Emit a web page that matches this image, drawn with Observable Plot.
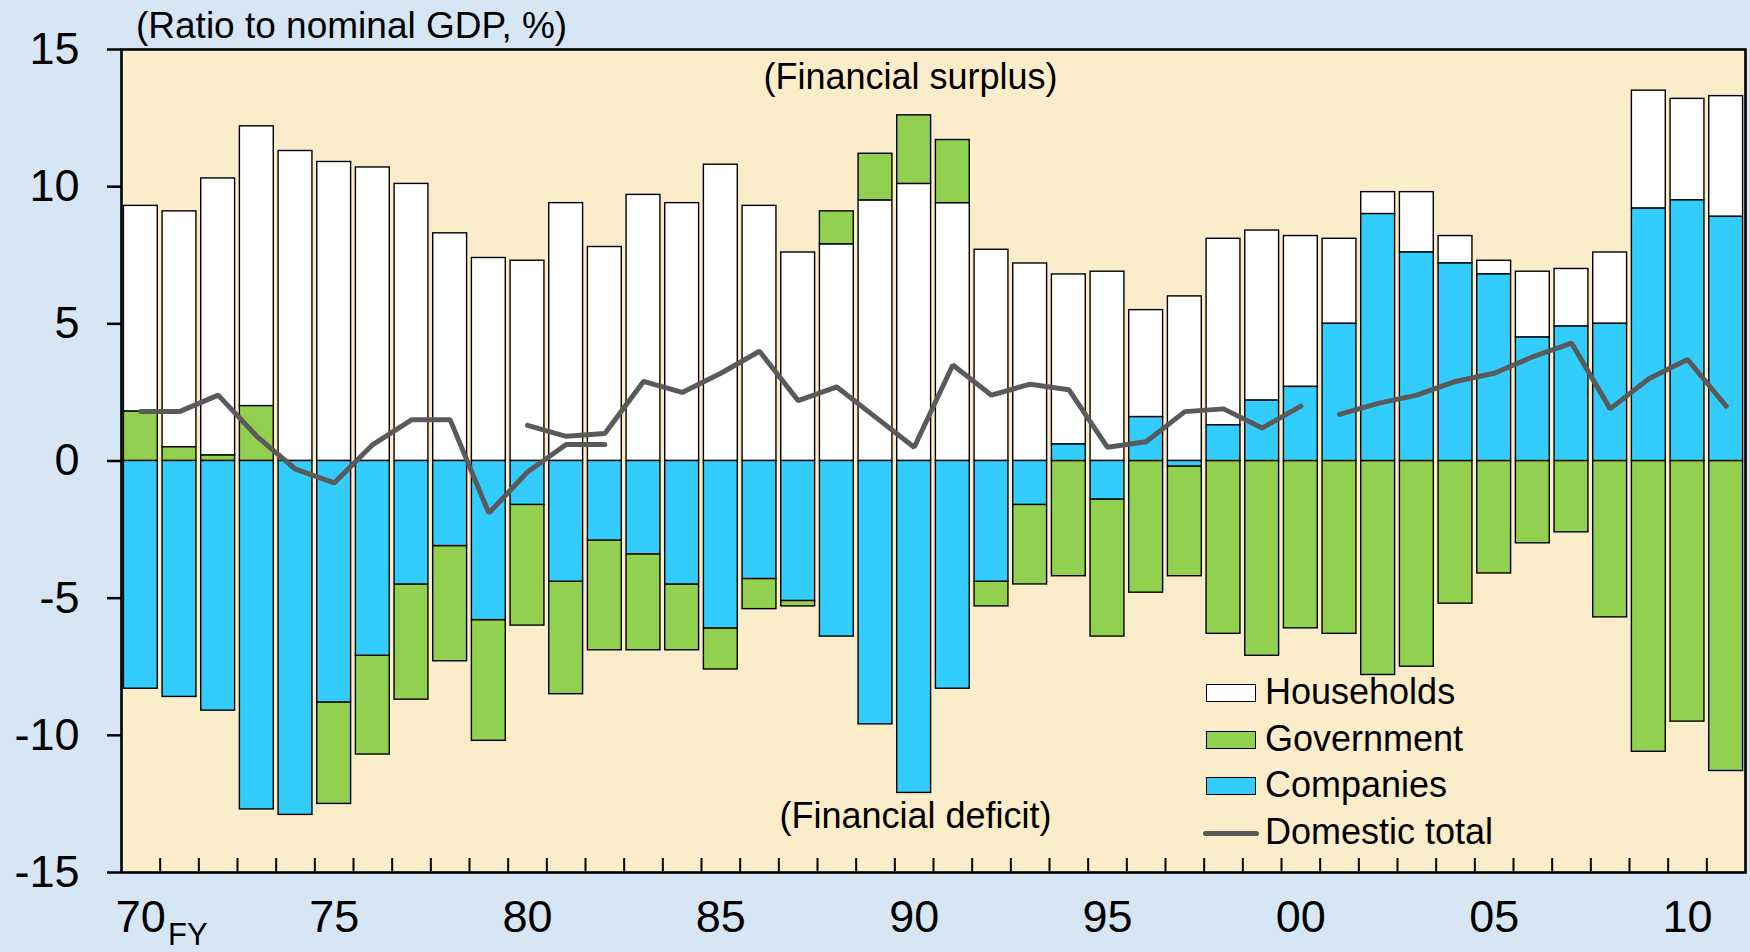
<!DOCTYPE html>
<html>
<head>
<meta charset="utf-8">
<script src="https://cdn.jsdelivr.net/npm/d3@7"></script>
<script src="https://cdn.jsdelivr.net/npm/@observablehq/plot@0.6"></script>
<style>
  html, body { margin: 0; padding: 0; width: 1750px; height: 952px; overflow: hidden;
    background: #d7e6f5; font-family: "Liberation Sans", Arial, sans-serif; color: #000; }
  #wrap { position: relative; width: 1750px; height: 952px; }
  #chart { position: absolute; left: 0; top: 0; }
  #title { position: absolute; left: 136px; top: 7px; font-size: 37px; line-height: 37px; white-space: nowrap; }
  .lg-sw { position: absolute; left: 1206px; width: 48px; height: 16px; border: 1.5px solid #000; }
  .lg-ln { position: absolute; left: 1203px; width: 56px; height: 5px; border-radius: 3px; background: #595959; }
  .lg-tx { position: absolute; left: 1265px; font-size: 36px; line-height: 36px; white-space: nowrap; }
</style>
</head>
<body>
<div id="wrap">
  <div id="chart"></div>
  <div id="title">(Ratio to nominal GDP, %)</div>
  <div class="lg-sw" style="top:684px;background:#ffffff"></div>
  <div class="lg-tx" style="top:674px">Households</div>
  <div class="lg-sw" style="top:731px;background:#92D050"></div>
  <div class="lg-tx" style="top:721px">Government</div>
  <div class="lg-sw" style="top:777px;background:#33CCFF"></div>
  <div class="lg-tx" style="top:767px">Companies</div>
  <div class="lg-ln" style="top:831px"></div>
  <div class="lg-tx" style="top:814px">Domestic total</div>
</div>
<script>
// ---- Data (ratio to nominal GDP, %) ----
const years = [1970,1971,1972,1973,1974,1975,1976,1977,1978,1979,
               1980,1981,1982,1983,1984,1985,1986,1987,1988,1989,
               1990,1991,1992,1993,1994,1995,1996,1997,1998,1999,
               2000,2001,2002,2003,2004,2005,2006,2007,2008,2009,
               2010,2011];

const households = [7.5,8.6,10.1,10.2,11.3,10.9,10.7,10.1,8.3,7.4,
                    7.3,9.4,7.8,9.7,9.4,10.8,9.3,7.6,7.9,9.5,
                    10.1,9.4,7.7,7.2,6.2,6.9,3.9,6.0,6.8,6.2,
                    5.5,3.1,0.8,2.2,1.0,0.5,2.4,2.1,2.6,4.3,
                    3.7,4.4];

const government = [1.8,0.5,0.2,2.0,0,-3.7,-3.6,-4.2,-4.2,-4.4,
                    -4.4,-4.1,-4.0,-3.5,-2.4,-1.5,-1.1,-0.2,1.2,1.7,
                    2.5,2.3,-0.9,-2.9,-4.2,-5.0,-4.8,-4.0,-6.3,-7.1,
                    -6.1,-6.3,-7.8,-7.5,-5.2,-4.1,-3.0,-2.6,-5.7,-10.6,
                    -9.5,-11.3];

const companies = [-8.3,-8.6,-9.1,-12.7,-12.9,-8.8,-7.1,-4.5,-3.1,-5.8,
                   -1.6,-4.4,-2.9,-3.4,-4.5,-6.1,-4.3,-5.1,-6.4,-9.6,
                   -12.1,-8.3,-4.4,-1.6,0.6,-1.4,1.6,-0.2,1.3,2.2,
                   2.7,5.0,9.0,7.6,7.2,6.8,4.5,4.9,5.0,9.2,
                   9.5,8.9];

// Years where the government surplus is drawn on top of households
const govOnTopYears = [1988, 1989, 1990, 1991];

// Domestic total: three separate line segments (series breaks)
const totalYearsA = [1970,1971,1972,1973,1974,1975,1976,1977,1978,1979,1980,1981,1982];
const totalA      = [1.8,1.8,2.4,0.9,-0.3,-0.8,0.6,1.5,1.5,-1.9,-0.4,0.6,0.6];
const totalYearsB = [1980,1981,1982,1983,1984,1985,1986,1987,1988,1989,1990,
                     1991,1992,1993,1994,1995,1996,1997,1998,1999,2000];
const totalB      = [1.3,0.9,1.0,2.9,2.5,3.2,4.0,2.2,2.7,1.6,0.5,
                     3.5,2.4,2.8,2.6,0.5,0.7,1.8,1.9,1.2,2.0];
const totalYearsC = [2001,2002,2003,2004,2005,2006,2007,2008,2009,2010,2011];
const totalC      = [1.7,2.1,2.4,2.9,3.2,3.8,4.3,1.9,3.0,3.7,2.0];

const sectors = ["Households", "Government", "Companies"];
const sectorColors = ["#ffffff", "#92D050", "#33CCFF"];
const stackOrder = ["Companies", "Government", "Households", "GovernmentTop"];

const yTicks = [-15, -10, -5, 0, 5, 10, 15];
const xLabelYears = [1970, 1975, 1980, 1985, 1990, 1995, 2000, 2005, 2010];
const xLabelText = ["70", "75", "80", "85", "90", "95", "00", "05", "10"];

// ---- Build tables ----
const rows = [];
years.forEach((yr, i) => {
  rows.push({year: yr, sector: "Households", layer: "Households", value: households[i]});
  rows.push({year: yr, sector: "Government",
             layer: govOnTopYears.includes(yr) ? "GovernmentTop" : "Government", value: government[i]});
  rows.push({year: yr, sector: "Companies", layer: "Companies", value: companies[i]});
});
const totalRows = [
  ...totalYearsA.map((yr, i) => ({year: yr, value: totalA[i], seg: "A"})),
  ...totalYearsB.map((yr, i) => ({year: yr, value: totalB[i], seg: "B"})),
  ...totalYearsC.map((yr, i) => ({year: yr, value: totalC[i], seg: "C"}))
];
const boundaries = years.slice(1).map(y => y - 0.5);

const W = 1750, H = 952, mT = 49, mB = 80, mL = 121, mR = 5;

const chart = Plot.plot({
  width: W, height: H,
  marginTop: mT, marginBottom: mB, marginLeft: mL, marginRight: mR,
  x: {domain: [years[0] - 0.5, years[years.length - 1] + 0.5]},
  y: {domain: [-15, 15]},
  color: {domain: sectors, range: sectorColors},
  style: {background: "transparent", fontFamily: "'Liberation Sans', Arial, sans-serif", color: "#000", overflow: "visible"},
  marks: [
    Plot.frame({fill: "#FBECCA", stroke: null}),
    Plot.rect(rows, Plot.stackY({
      x: "year",
      x1: d => d.year - 0.5,
      x2: d => d.year + 0.5,
      y: "value",
      z: "layer",
      fill: "sector",
      order: stackOrder,
      stroke: "#000",
      strokeWidth: 1.4,
      insetLeft: 2.4,
      insetRight: 2.4
    })),
    Plot.line(totalRows, {x: "year", y: "value", z: "seg", stroke: "#5A5A5A", strokeWidth: 5,
      strokeLinecap: "round", strokeLinejoin: "miter"}),
    Plot.ruleX(boundaries, {x: d => d, insetTop: H - mT - mB - 14, stroke: "#000", strokeWidth: 2}),
    Plot.frame({stroke: "#000", strokeWidth: 2.6}),
    Plot.axisY({ticks: yTicks, tickSize: 14, tickPadding: 28, fontSize: 45,
      tickFormat: d => String(d), strokeWidth: 2.5, label: null}),
    Plot.axisX({ticks: xLabelYears, tickSize: 0, tickPadding: 28, fontSize: 45,
      tickFormat: d => xLabelText[xLabelYears.indexOf(d)], label: null}),
    Plot.text([{x: 1970, t: "FY"}], {x: "x", text: "t", frameAnchor: "bottom", dx: 47, dy: 72,
      lineAnchor: "bottom", textAnchor: "middle", fontSize: 31}),
    Plot.text(["(Financial surplus)"], {text: d => d, frameAnchor: "top", dx: -23, dy: 39,
      lineAnchor: "bottom", fontSize: 36}),
    Plot.text(["(Financial deficit)"], {text: d => d, frameAnchor: "bottom", dx: -18, dy: -45,
      lineAnchor: "bottom", fontSize: 36})
  ]
});
document.getElementById("chart").appendChild(chart);
</script>
</body>
</html>
